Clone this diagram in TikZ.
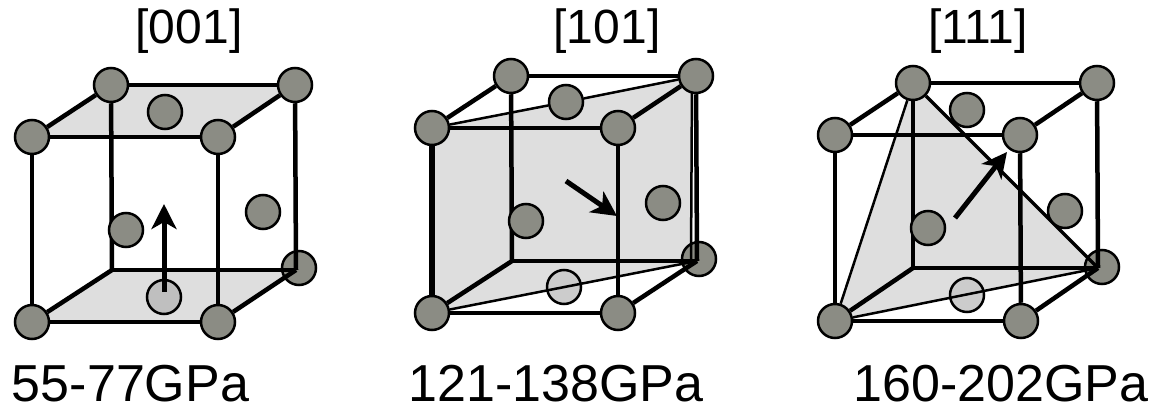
\documentclass[tikz,border=0pt]{standalone}
\usepackage{fontspec}
\setmainfont{Liberation Sans}
\usetikzlibrary{arrows.meta,backgrounds}
\definecolor{atomgray}{HTML}{8B8C84}
\definecolor{planegray}{HTML}{DEDEDE}
\tikzstyle{atom} = [draw, circle, fill=atomgray, line width=2.5pt, minimum size=34pt, inner sep=0pt]
\tikzstyle{edge} = [draw, line width=4.5pt]
\tikzstyle{rim} = [draw, line width=2.5pt]
\tikzstyle{plane} = [fill=planegray]
\tikzstyle{miller} = [-{Stealth[length=25pt,width=25pt,inset=7pt]}, line width=5pt]
\tikzstyle{title} = [inner sep=0pt, anchor=base, font=\fontsize{48}{50}\selectfont]
\tikzstyle{modulus} = [inner sep=0pt, anchor=base, font=\fontsize{52}{54}\selectfont]
\begin{document}
\begin{tikzpicture}[x=1pt, y=-1pt, node distance=186pt]
        \useasboundingbox (0,0) rectangle (1164,414);
        % [001] cube
        \node[title] (title1) at (189,44) {[001]};
        \node[atom] (tbl1) at (111,85) {};
        \node[atom, right of=tbl1, node distance=184pt] (tbr1) {};
        \node[atom] (tfl1) at (32,137) {};
        \node[atom, right of=tfl1] (tfr1) {};
        \node[atom, below of=tfl1, node distance=185pt] (bfl1) {};
        \node[atom, right of=bfl1] (bfr1) {};
        \node[atom] (top1) at (165,112) {};
        \node[atom] (left1) at (126,230) {};
        \node[atom] (right1) at (263,212) {};
        \coordinate (back1) at (112,270);
        \coordinate (corner1) at (296,270);
        \coordinate (from1) at (164,292);
        \coordinate (to1) at (164,204);
        \draw[miller] (from1) -- (to1);
        \node[modulus] (label1) at (130.5,401) {55-77GPa};
        % [101] cube
        \node[title] (title2) at (607,44) {[101]};
        \node[atom] (tbl2) at (511,76) {};
        \node[atom, right of=tbl2, node distance=185pt] (tbr2) {};
        \node[atom] (tfl2) at (432,128) {};
        \node[atom, right of=tfl2] (tfr2) {};
        \node[atom, below of=tfl2, node distance=185pt] (bfl2) {};
        \node[atom, right of=bfl2] (bfr2) {};
        \node[atom] (top2) at (566,102) {};
        \node[atom] (left2) at (526,221) {};
        \node[atom] (right2) at (663,203) {};
        \coordinate (back2) at (512,261);
        \coordinate (corner2) at (697,261);
        \coordinate (inner2) at (692,80);
        \coordinate (innerb2) at (691,261);
        \coordinate (from2) at (566,181);
        \coordinate (to2) at (617,216);
        \draw[miller] (from2) -- (to2);
        \node[modulus] (label2) at (556,401) {121-138GPa};
        % [111] cube
        \node[title] (title3) at (978,44) {[111]};
        \node[atom] (tbl3) at (913,83) {};
        \node[atom, right of=tbl3, node distance=184pt] (tbr3) {};
        \node[atom] (tfl3) at (835,135) {};
        \node[atom, right of=tfl3, node distance=185pt] (tfr3) {};
        \node[atom, below of=tfl3, node distance=186pt] (bfl3) {};
        \node[atom, right of=bfl3] (bfr3) {};
        \node[atom] (top3) at (967,110) {};
        \node[atom] (left3) at (928,228) {};
        \node[atom] (right3) at (1065,211) {};
        \coordinate (back3) at (913,268);
        \coordinate (corner3) at (1098,268);
        \coordinate (from3) at (955,218);
        \coordinate (to3) at (1007,152);
        \draw[miller] (from3) -- (to3);
        \node[modulus] (label3) at (1001,401) {160-202GPa};
        \begin{scope}[on background layer]
            % shaded planes
            \path[plane] (tfl1.center) -- (tbl1.center) -- (tbr1.center) -- (tfr1.center) -- cycle;
            \path[plane] (bfl1.center) -- (back1) -- (corner1) -- (bfr1.center) -- cycle;
            \path[plane] (tfl2.center) -- (tbr2.center) -- (inner2) -- (innerb2) -- (corner2) -- (bfl2.center) -- cycle;
            \path[plane] (tbl3.center) -- (corner3) -- (bfl3.center) -- cycle;
            % atoms seen through or lying under the lines
            \node[atom] (bbr1) at (299,268) {};
            \node[atom] (bbr2) at (699,259) {};
            \node[atom] (bbr3) at (1102,267) {};
            \node[atom, fill=black!25] (bot1) at (164,297) {};
            \node[atom, fill=black!20] (bot2) at (564,287) {};
            \node[atom, fill=black!20] (bot3) at (967,295) {};
            % cube frames
            \foreach \c in {1,2,3} {
                \path[edge] (tfl\c) -- (tfr\c);
                \path[edge] (tfl\c) -- (bfl\c);
                \path[edge] (tfr\c) -- (bfr\c);
                \path[edge] (bfl\c) -- (bfr\c);
                \path[edge] (tfl\c) -- (tbl\c);
                \path[edge] (tfr\c) -- (tbr\c);
                \path[edge] (tbl\c) -- (tbr\c);
                \path[edge] (tbl\c) -- (back\c);
                \path[edge] (bfl\c) -- (back\c);
                \path[edge] (back\c) -- (corner\c);
                \path[edge] (tbr\c) -- (corner\c);
                \path[edge] (bfr\c) -- (corner\c);
            }
            % plane outlines
            \path[rim] (tfl2) -- (top2);
            \path[rim] (top2) -- (tbr2);
            \path[rim] (bfl2) -- (corner2);
            \path[rim] (inner2) -- (innerb2);
            \path[rim, line width=6pt] (tfl2) -- (bfl2);
            \path[rim] (bfl3) -- (tbl3);
            \path[rim, line width=3.5pt] (tbl3) -- (corner3);
            \path[rim] (bfl3) -- (corner3);
        \end{scope}
    \end{tikzpicture}
\end{document}
